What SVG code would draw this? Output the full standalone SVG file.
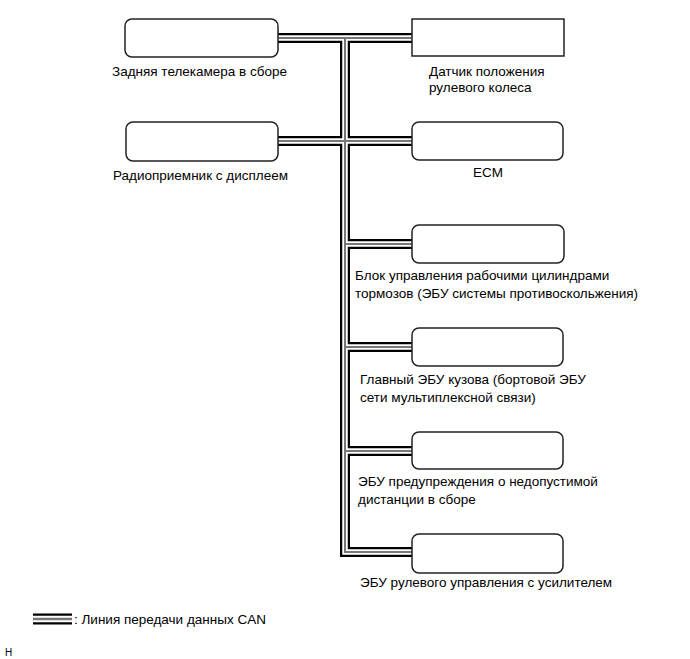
<svg xmlns="http://www.w3.org/2000/svg" xmlns:xlink="http://www.w3.org/1999/xlink" width="690" height="659" viewBox="0 0 690 659">
<style>
.box{fill:#fff;stroke:#222;stroke-width:1.5}
.lbl{font-family:"Liberation Sans",Arial,sans-serif;font-size:13.5px;fill:#000}
.b1{fill:none;stroke:#000;stroke-width:10;stroke-linejoin:miter}
.b2{fill:none;stroke:#fff;stroke-width:5.5;stroke-linejoin:miter}
.b3{fill:none;stroke:#777;stroke-width:2;stroke-linejoin:miter}
</style>
<defs>
<path id="bus" d="M278,38 H412 M345,38 V552 H412 M278,141 H412 M345,244 H412 M345,347 H412 M345,451 H412"/>
<path id="leg" d="M33,619 H72"/>
</defs>
<rect width="690" height="659" fill="#fff"/>
<g id="connectors">
<use xlink:href="#bus" class="b1"/>
<use xlink:href="#bus" class="b2"/>
<use xlink:href="#bus" class="b3"/>
</g>
<g id="rear-camera">
<rect class="box" x="125" y="19" width="153" height="38" rx="7"/>
<text class="lbl" x="112" y="76">Задняя телекамера в сборе</text>
</g>
<g id="steering-sensor">
<rect class="box" x="412" y="19" width="152" height="37"/>
<text class="lbl" x="429" y="76">Датчик положения</text>
<text class="lbl" x="429" y="92">рулевого колеса</text>
</g>
<g id="radio">
<rect class="box" x="126" y="122" width="152" height="39" rx="7"/>
<text class="lbl" x="113" y="180">Радиоприемник с дисплеем</text>
</g>
<g id="ecm">
<rect class="box" x="412" y="122" width="151" height="38" rx="7"/>
<text class="lbl" x="488" y="177" text-anchor="middle">ECM</text>
</g>
<g id="brake-ecu">
<rect class="box" x="412" y="225" width="152" height="38" rx="7"/>
<text class="lbl" x="355" y="280">Блок управления рабочими цилиндрами</text>
<text class="lbl" x="355" y="298">тормозов (ЭБУ системы противоскольжения)</text>
</g>
<g id="body-ecu">
<rect class="box" x="412" y="328" width="151" height="38" rx="7"/>
<text class="lbl" x="360" y="384">Главный ЭБУ кузова (бортовой ЭБУ</text>
<text class="lbl" x="360" y="402">сети мультиплексной связи)</text>
</g>
<g id="distance-ecu">
<rect class="box" x="412" y="432" width="151" height="37" rx="7"/>
<text class="lbl" x="358" y="486">ЭБУ предупреждения о недопустимой</text>
<text class="lbl" x="358" y="504">дистанции в сборе</text>
</g>
<g id="eps-ecu">
<rect class="box" x="412" y="534" width="151" height="39" rx="7"/>
<text class="lbl" x="360" y="587">ЭБУ рулевого управления с усилителем</text>
</g>
<g id="legend">
<use xlink:href="#leg" class="b1" style="stroke-width:11"/>
<use xlink:href="#leg" class="b2" style="stroke-width:6.5"/>
<use xlink:href="#leg" class="b3" style="stroke-width:2.5"/>
<text class="lbl" x="74" y="624">: Линия передачи данных CAN</text>
<text class="lbl" x="5" y="656" style="font-size:10px">H</text>
</g>
</svg>
